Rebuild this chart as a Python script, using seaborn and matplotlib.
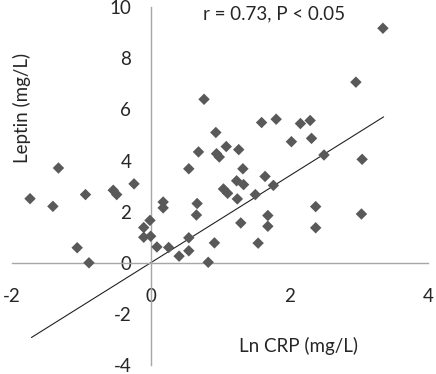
import matplotlib
matplotlib.use("Agg")
import matplotlib.pyplot as plt
import seaborn as sns
import numpy as np
import pandas as pd

# Data
ln_crp = [-1.74, -1.41, -1.33, -0.94, -1.06, -0.89, -0.54, -0.49, -0.24,
          -0.10, -0.10, -0.01, 0.00, 0.09, 0.18, 0.18, 0.26, 0.41, 0.55,
          0.55, 0.55, 0.66, 0.67, 0.69, 0.83, 0.92, 0.94, 0.77, 0.95, 0.99,
          1.09, 1.27, 1.33, 1.05, 1.11, 1.24, 1.34, 1.25, 1.51, 1.65, 1.77,
          1.60, 1.81, 2.03, 2.16, 2.30, 2.32, 2.50, 2.38, 2.38, 1.69, 1.69,
          1.30, 1.55, 3.35, 2.96, 3.05, 3.04]
leptin = [2.51, 2.21, 3.71, 2.67, 0.59, 0.00, 2.84, 2.67, 3.09,
          1.00, 1.38, 1.66, 1.04, 0.62, 2.38, 2.15, 0.60, 0.26, 0.98,
          0.47, 3.68, 1.87, 2.32, 4.34, 0.02, 0.78, 5.10, 6.40, 4.27, 4.14,
          4.55, 4.43, 3.68, 2.89, 2.72, 3.21, 3.06, 2.50, 2.67, 3.38, 3.03,
          5.49, 5.62, 4.74, 5.45, 5.57, 4.87, 4.22, 2.20, 1.37, 1.85, 1.43,
          1.56, 0.77, 9.18, 7.07, 4.05, 1.91]
trend_slope = 1.70
trend_intercept = 0.0
trend_x_range = [-1.72, 3.36]
x_ticks = [-2, 0, 2, 4]
y_ticks = [-4, -2, 0, 2, 4, 6, 8, 10]
annotation = "r = 0.73, P < 0.05"
x_label = "Ln CRP (mg/L)"
y_label = "Leptin (mg/L)"

df = pd.DataFrame({"x": ln_crp, "y": leptin})

sns.set_style("white")
plt.rcParams["font.family"] = ["Lato", "DejaVu Sans"]

fig = plt.figure(figsize=(4.36, 3.74), dpi=100)
ax = fig.add_axes([12/436, 9/374, 416/436, 357.7/374])

sns.scatterplot(data=df, x="x", y="y", marker="D", s=34, color="#595959",
                edgecolor="none", ax=ax, zorder=3)

tx = np.array(trend_x_range)
ty = trend_slope * tx + trend_intercept
sns.lineplot(x=tx, y=ty, color="#222222", linewidth=0.8, ax=ax, zorder=2)

ax.set_xlim(-2, 4)
ax.set_ylim(-4, 10)
ax.set_xticks(x_ticks)
ax.set_yticks(y_ticks)
ax.set_xticklabels([str(t) for t in x_ticks])
ax.set_yticklabels([str(t) for t in y_ticks])

for s in ["top", "right"]:
    ax.spines[s].set_visible(False)
ax.spines["left"].set_position(("data", 0))
ax.spines["bottom"].set_position(("data", 0))
for s in ["left", "bottom"]:
    ax.spines[s].set_color("#a6a6a6")
    ax.spines[s].set_linewidth(1.0)

fs = 13.5
ax.tick_params(axis="x", direction="out", length=5, width=1, color="#a6a6a6",
               pad=13, labelsize=fs, labelcolor="#262626")
ax.tick_params(axis="y", direction="out", length=5, width=1, color="#a6a6a6",
               pad=9, labelsize=fs, labelcolor="#262626")
ax.set_xlabel("")
ax.set_ylabel("")
ax.patch.set_alpha(0)

ax.text(2.81, 9.74, annotation, ha="right", va="center", fontsize=fs,
        color="#262626")
ax.text(2.13, -3.27, x_label, ha="center", va="center", fontsize=fs,
        color="#262626")
ax.text(-1.85, 6.07, y_label, ha="center", va="center", rotation=90,
        fontsize=fs, color="#262626")

fig.savefig("out.png", dpi=100)
